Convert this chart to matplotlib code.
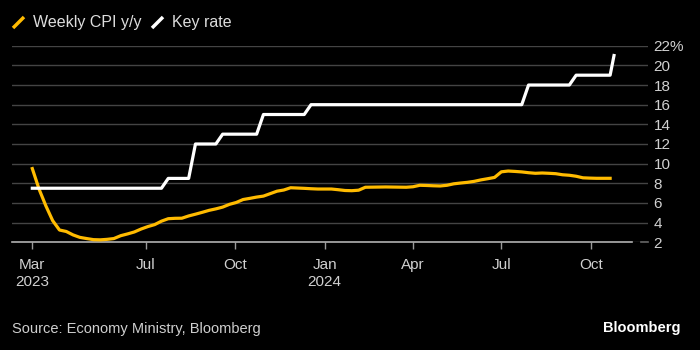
import datetime as dt
import numpy as np
import matplotlib
matplotlib.use("Agg")
import matplotlib.pyplot as plt
import matplotlib.dates as mdates
from matplotlib.lines import Line2D

# %% Dados (semanais, a partir de 6 mar 2023)
start = dt.date(2023, 3, 6)
weeks = [start + dt.timedelta(weeks=i) for i in range(86)]

cpi_yoy = [
    9.5, 7.4, 5.7, 4.2, 3.25, 3.1, 2.75, 2.5, 2.38, 2.27,
    2.25, 2.3, 2.38, 2.67, 2.85, 3.05, 3.35, 3.6, 3.8, 4.15,
    4.4, 4.44, 4.45, 4.68, 4.86, 5.05, 5.25, 5.4, 5.58, 5.86,
    6.05, 6.35, 6.47, 6.6, 6.7, 6.95, 7.2, 7.32, 7.55, 7.52,
    7.49, 7.45, 7.42, 7.42, 7.42, 7.35, 7.27, 7.25, 7.3, 7.6,
    7.61, 7.62, 7.63, 7.62, 7.61, 7.6, 7.65, 7.8, 7.78, 7.75,
    7.73, 7.8, 7.95, 8.03, 8.1, 8.2, 8.35, 8.47, 8.6, 9.17,
    9.25, 9.21, 9.16, 9.08, 9.02, 9.05, 9.02, 8.98, 8.87, 8.82,
    8.72, 8.56, 8.53, 8.51, 8.51, 8.51,
]

key_rate = ([7.5] * 20 + [8.5] * 4 + [12] * 4 + [13] * 6 + [15] * 7
            + [16] * 32 + [18] * 7 + [19] * 6)
rate_dates = weeks + [dt.date(2024, 10, 25)]
key_rate = key_rate + [21]

tick_dates = [start, dt.date(2023, 7, 1), dt.date(2023, 10, 1), dt.date(2024, 1, 1),
              dt.date(2024, 4, 1), dt.date(2024, 7, 1), dt.date(2024, 10, 1)]
tick_labels = ["Mar\n2023", "Jul", "Oct", "Jan\n2024", "Apr", "Jul", "Oct"]
y_ticks = [2, 4, 6, 8, 10, 12, 14, 16, 18, 20, 22]
y_labels = [str(v) for v in y_ticks[:-1]] + ["22%"]

# %% Estilo
YELLOW = "#FFBB00"
WHITE = "#FFFFFF"
BG = "#000000"
plt.rcParams["font.family"] = ["Liberation Sans", "DejaVu Sans"]

W, H = 700, 350
fig = plt.figure(figsize=(7, 3.5), dpi=100, facecolor=BG)
ax = fig.add_axes([12 / W, 1 - 242.3 / H, 636 / W, (242.3 - 45.7) / H])
ax.set_facecolor(BG)

ax.plot(weeks, cpi_yoy, color=YELLOW, lw=2.3, solid_joinstyle="round", zorder=3)
ax.plot(rate_dates, key_rate, color=WHITE, lw=2.3, solid_joinstyle="round", zorder=4)

x0 = mdates.date2num(start)
ax.set_xlim(x0 - 20.9, x0 + 634)
ax.set_ylim(2, 22)

for s in ax.spines.values():
    s.set_visible(False)

ax.set_yticks(y_ticks)
ax.set_yticklabels(y_labels)
ax.yaxis.tick_right()
ax.tick_params(axis="y", length=0, pad=4, labelsize=11, labelcolor="#d0d0d0")
ax.grid(axis="y", color="#444444", lw=1)
ax.set_axisbelow(True)

ax.set_xticks([mdates.date2num(d) for d in tick_dates])
ax.set_xticklabels(tick_labels, linespacing=1.3)
ax.tick_params(axis="x", length=5, width=1, color="#9a9a9a", pad=6,
               labelsize=11, labelcolor="#d0d0d0")

# linha de base
ax.axhline(2, xmin=0, xmax=(632 - 12) / 636, color="#b0b0b0", lw=1.2, zorder=2, clip_on=False)
ax.axhline(2, xmin=(641 - 12) / 636, xmax=1, color="#666666", lw=1.2, zorder=2, clip_on=False)

# %% Legenda
def slash(x1, y1, x2, y2, color):
    fig.add_artist(Line2D([x1 / W, x2 / W], [1 - y1 / H, 1 - y2 / H],
                          color=color, lw=2.5, solid_capstyle="butt"))

slash(13, 28, 24, 17, YELLOW)
fig.text(33 / W, 1 - 22.5 / H, "Weekly CPI y/y", color="#dddddd", fontsize=11.5, va="center")
slash(152, 28, 163, 17, WHITE)
fig.text(172 / W, 1 - 22.5 / H, "Key rate", color="#dddddd", fontsize=11.5, va="center")

fig.text(12 / W, 1 - 329 / H, "Source: Economy Ministry, Bloomberg", color="#cfcfcf",
         fontsize=10.5, va="center")
fig.text(680 / W, 1 - 328 / H, "Bloomberg", color=WHITE, fontsize=10.5,
         fontweight="bold", va="center", ha="right")

fig.savefig("out.png", dpi=100, facecolor=BG)
